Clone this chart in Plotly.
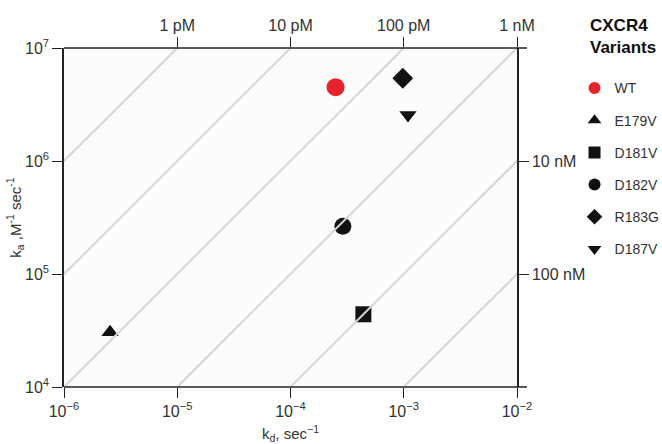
import plotly.graph_objects as go

# Data
variants = ["WT", "E179V", "D181V", "D182V", "R183G", "D187V"]
kd_values = [2.5e-4, 2.55e-6, 4.4e-4, 2.9e-4, 9.8e-4, 1.09e-3]
ka_values = [4.5e6, 3.05e4, 4.4e4, 2.65e5, 5.4e6, 2.55e6]
symbols = ["circle", "triangle-up", "square", "circle", "diamond", "triangle-down"]
colors = ["#e8232b", "#111111", "#111111", "#111111", "#111111", "#111111"]
sizes = [18, 15, 16, 17, 16, 15]

bottom_exponents = [-6, -5, -4, -3, -2]
left_exponents = [4, 5, 6, 7]
top_tick_kd = [1e-5, 1e-4, 1e-3, 1e-2]
top_tick_text = ["1 pM", "10 pM", "100 pM", "1 nM"]
right_tick_ka = [1e6, 1e5]
right_tick_text = ["10 nM", "100 nM"]
KD_lines = [1e-13, 1e-12, 1e-11, 1e-10, 1e-9, 1e-8, 1e-7, 1e-6]
kd_line_ends = [1e-7, 1e-1]
legend_title = "<b>CXCR4<br>Variants</b>"

FONT = "Liberation Sans, Arial, Helvetica, sans-serif"
TXT = "#333333"
AX = "#222222"

fig = go.Figure()

for KD in KD_lines:
    fig.add_trace(go.Scatter(
        x=kd_line_ends, y=[k / KD for k in kd_line_ends],
        mode="lines", line=dict(color="#d6d6d6", width=2),
        showlegend=False, hoverinfo="skip", xaxis="x2", yaxis="y2"))

for i, v in enumerate(variants):
    fig.add_trace(go.Scatter(
        x=[kd_values[i]], y=[ka_values[i]], mode="markers", name=v,
        legendgroup=v,
        marker=dict(symbol=symbols[i], color=colors[i], size=sizes[i], line=dict(width=0))))

tick_common = dict(ticks="outside", ticklen=10, tickcolor=AX, tickwidth=1.2,
                   showgrid=False, zeroline=False, tickfont=dict(size=16, color=TXT))

fig.update_layout(
    width=662, height=444,
    margin=dict(l=64, r=145, t=48, b=57, autoexpand=False),
    paper_bgcolor="white", plot_bgcolor="#fcfcfc",
    font=dict(family=FONT, size=14, color=TXT),
    xaxis=dict(type="log", range=[-6, -2], tickmode="array",
               tickvals=[10.0 ** e for e in bottom_exponents],
               ticktext=["10<sup>\u2212%d</sup>" % (-e) for e in bottom_exponents],
               showline=False,
               title=dict(text="k<sub>d</sub>, sec<sup>\u22121</sup>", standoff=11, font=dict(size=15)),
               **tick_common),
    yaxis=dict(type="log", range=[4, 7], tickmode="array",
               tickvals=[10.0 ** e for e in left_exponents],
               ticktext=["10<sup>%d</sup>" % e for e in left_exponents],
               showline=True, linecolor=AX, linewidth=1.5,
               title=dict(text="k<sub>a</sub> ,M<sup>-1</sup> sec<sup>-1</sup>", standoff=0, font=dict(size=15)),
               **tick_common),
    xaxis2=dict(type="log", range=[-6, -2], overlaying="x", side="top", anchor="y",
                tickmode="array", tickvals=top_tick_kd, ticktext=top_tick_text,
                showline=False, ticklabelstandoff=0, **tick_common),
    yaxis2=dict(type="log", range=[4, 7], overlaying="y", side="right", anchor="x",
                tickmode="array", tickvals=right_tick_ka, ticktext=right_tick_text,
                showline=True, linecolor=AX, linewidth=1.5, **tick_common),
    legend=dict(x=1.127, y=0.928, xanchor="left", yanchor="top",
                font=dict(size=14, color=TXT), tracegroupgap=11, itemsizing="constant",
                bgcolor="rgba(0,0,0,0)"),
    annotations=[dict(text=legend_title, xref="paper", yref="paper", x=1.157, y=1.10,
                      xanchor="left", yanchor="top", align="left", showarrow=False,
                      font=dict(size=17, color="#111111"))],
    shapes=[
        dict(type="line", xref="x domain", yref="y domain", x0=0, x1=1.022, y0=1, y1=1,
             line=dict(color=AX, width=1.5)),
        dict(type="line", xref="x domain", yref="y domain", x0=0, x1=1.022, y0=0, y1=0,
             line=dict(color=AX, width=1.5)),
    ],
)

fig.write_html("out.html")
